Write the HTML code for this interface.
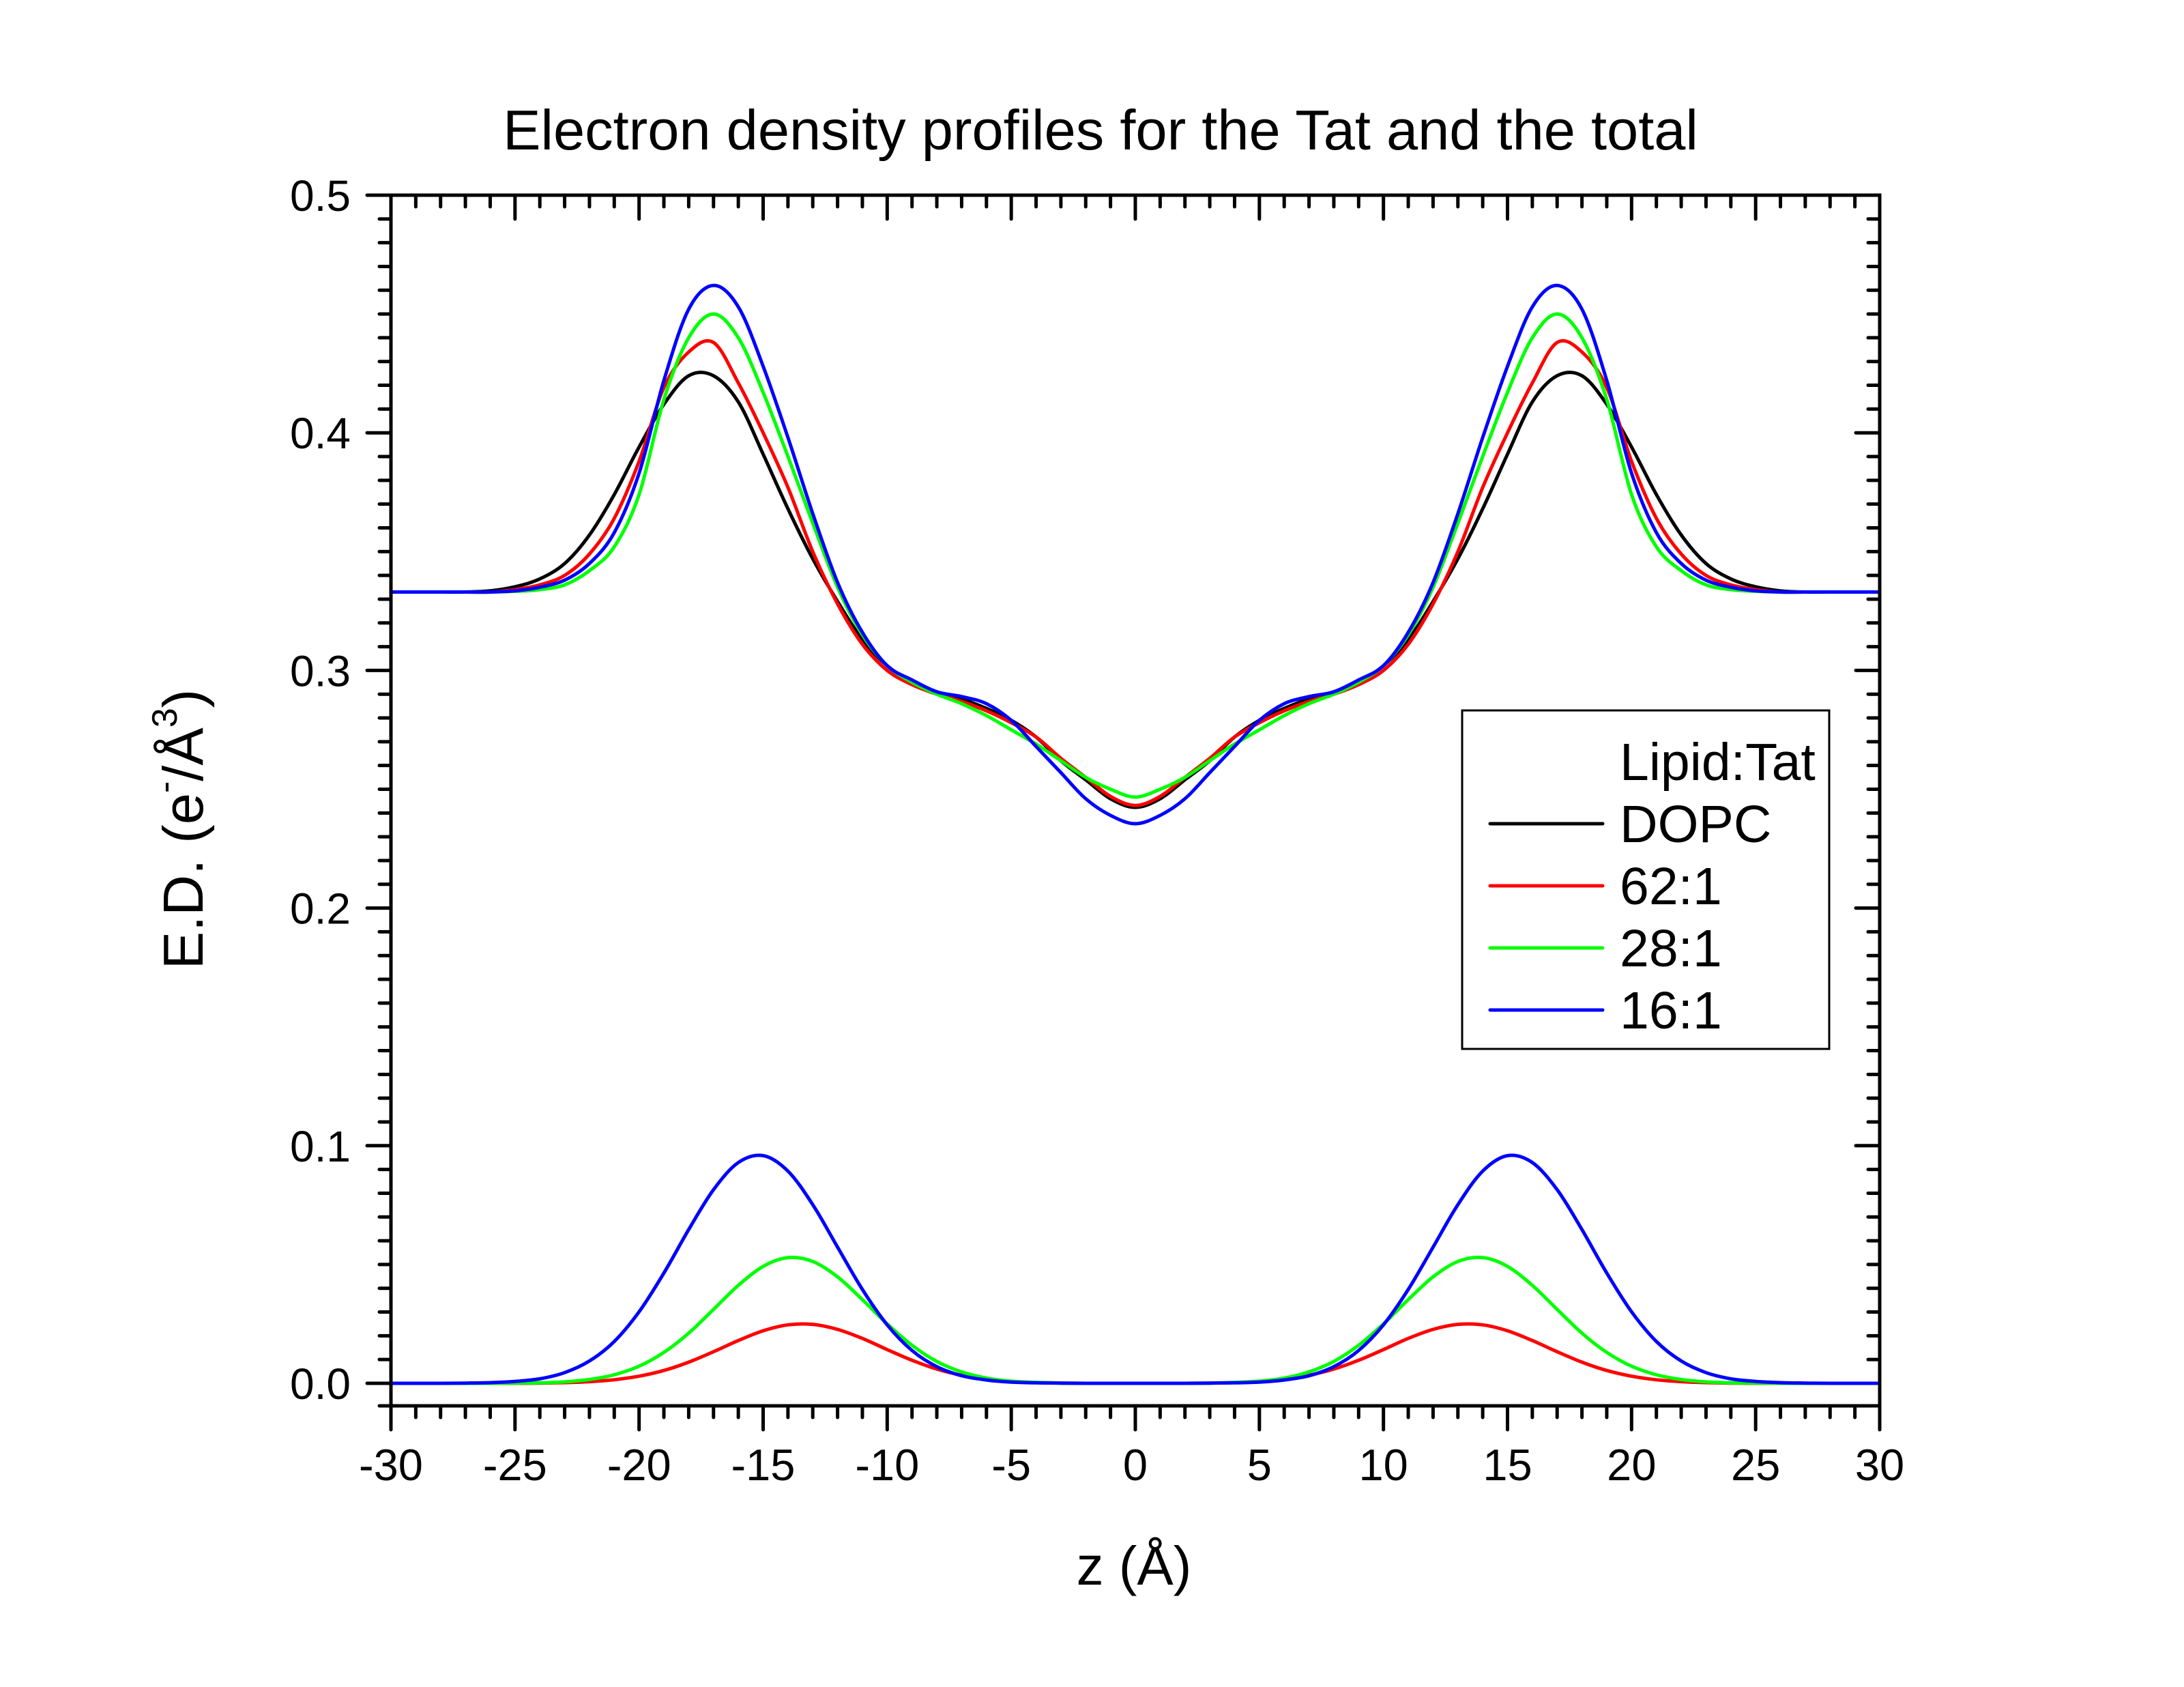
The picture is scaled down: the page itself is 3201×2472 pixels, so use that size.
<!DOCTYPE html>
<html>
<head>
<meta charset="utf-8">
<style>
html,body{margin:0;padding:0;background:#fff;}
svg{display:block;}
text{font-family:"Liberation Sans",Arial,sans-serif;fill:#000;}
</style>
</head>
<body>
<svg id="chart" width="3201" height="2472" viewBox="0 0 3201 2472" xmlns="http://www.w3.org/2000/svg">
  <rect x="0" y="0" width="3201" height="2472" fill="#fff"/>
  <text x="1613" y="219" font-size="83" text-anchor="middle">Electron density profiles for the Tat and the total</text>
  <g id="ticks"></g>
  <g id="series"></g>
  <rect x="573" y="286" width="2182" height="1774" fill="none" stroke="#000" stroke-width="5"/>
  <g id="ticklabels"></g>
  <text x="1662" y="2322" font-size="80" text-anchor="middle">z (Å)</text>
  <text transform="translate(297,1215) rotate(-90)" font-size="83" text-anchor="middle">E.D. (e<tspan font-size="52" dy="-38">-</tspan><tspan dy="38">/Å</tspan><tspan font-size="52" dy="-38">3</tspan><tspan dy="38">)</tspan></text>
  <g transform="translate(-23,0)">
    <rect x="2166" y="1041" width="538" height="496" fill="#fff" stroke="#000" stroke-width="3"/>
    <text x="2397" y="1143" font-size="77">Lipid:Tat</text>
    <line x1="2207" y1="1207" x2="2372" y2="1207" stroke="#000" stroke-width="5" stroke-linecap="round"/>
    <text x="2397" y="1234" font-size="77">DOPC</text>
    <line x1="2207" y1="1298" x2="2372" y2="1298" stroke="#ff0000" stroke-width="5" stroke-linecap="round"/>
    <text x="2397" y="1325" font-size="77">62:1</text>
    <line x1="2207" y1="1389" x2="2372" y2="1389" stroke="#00ff00" stroke-width="5" stroke-linecap="round"/>
    <text x="2397" y="1416" font-size="77">28:1</text>
    <line x1="2207" y1="1480" x2="2372" y2="1480" stroke="#0000ff" stroke-width="5" stroke-linecap="round"/>
    <text x="2397" y="1507" font-size="77">16:1</text>
  </g>
</svg>
<script>
// z positions (Å), -30..30 step 1
const zValues = [-30,-29,-28,-27,-26,-25,-24,-23,-22,-21,-20,-19,-18,-17,-16,-15,-14,-13,-12,-11,-10,-9,-8,-7,-6,-5,-4,-3,-2,-1,0,1,2,3,4,5,6,7,8,9,10,11,12,13,14,15,16,17,18,19,20,21,22,23,24,25,26,27,28,29,30];
const totalDOPC = [0.333,0.333,0.333,0.333,0.3335,0.3352,0.3385,0.345,0.357,0.374,0.394,0.412,0.424,0.424,0.413,0.391,0.368,0.347,0.329,0.313,0.302,0.295,0.291,0.288,0.284,0.279,0.272,0.262,0.254,0.246,0.2424,0.246,0.254,0.262,0.272,0.279,0.284,0.288,0.291,0.295,0.302,0.313,0.329,0.347,0.368,0.391,0.413,0.424,0.424,0.412,0.394,0.374,0.357,0.345,0.3385,0.3352,0.3335,0.333,0.333,0.333,0.333];
const total62 = [0.333,0.333,0.333,0.333,0.333,0.334,0.336,0.340,0.349,0.364,0.388,0.419,0.434,0.438,0.421,0.400,0.377,0.350,0.328,0.311,0.300,0.294,0.290,0.287,0.283,0.278,0.272,0.263,0.255,0.247,0.2432,0.247,0.255,0.263,0.272,0.278,0.283,0.287,0.290,0.294,0.300,0.311,0.328,0.350,0.377,0.400,0.421,0.438,0.434,0.419,0.388,0.364,0.349,0.340,0.336,0.334,0.333,0.333,0.333,0.333,0.333];
const total28 = [0.333,0.333,0.333,0.333,0.333,0.3333,0.334,0.336,0.342,0.352,0.374,0.414,0.440,0.450,0.440,0.417,0.390,0.362,0.335,0.315,0.302,0.295,0.290,0.286,0.281,0.275,0.269,0.262,0.255,0.250,0.2467,0.250,0.255,0.262,0.269,0.275,0.281,0.286,0.290,0.295,0.302,0.315,0.335,0.362,0.390,0.417,0.440,0.450,0.440,0.414,0.374,0.352,0.342,0.336,0.334,0.3333,0.333,0.333,0.333,0.333,0.333];
const total16 = [0.333,0.333,0.333,0.333,0.333,0.3335,0.335,0.338,0.345,0.358,0.383,0.422,0.452,0.462,0.453,0.428,0.398,0.366,0.337,0.316,0.302,0.296,0.291,0.289,0.286,0.279,0.268,0.257,0.246,0.239,0.2355,0.239,0.246,0.257,0.268,0.279,0.286,0.289,0.291,0.296,0.302,0.316,0.337,0.366,0.398,0.428,0.453,0.462,0.452,0.422,0.383,0.358,0.345,0.338,0.335,0.3335,0.333,0.333,0.333,0.333,0.333];
const tat62 = [0,0,0,0,0,0,0.0001,0.0003,0.0007,0.0015,0.0030,0.0054,0.0089,0.0133,0.0180,0.0221,0.0246,0.0248,0.0227,0.0189,0.0142,0.0097,0.0060,0.0034,0.0017,0.0008,0.0003,0.0001,0,0,0,0,0,0.0001,0.0003,0.0008,0.0017,0.0034,0.0060,0.0097,0.0142,0.0189,0.0227,0.0248,0.0246,0.0221,0.0180,0.0133,0.0089,0.0054,0.0030,0.0015,0.0007,0.0003,0.0001,0,0,0,0,0,0];
const tat28 = [0,0,0,0,0,0.0001,0.0002,0.0006,0.0016,0.0036,0.0072,0.0130,0.0211,0.0311,0.0412,0.0492,0.0529,0.0513,0.0448,0.0352,0.0250,0.0160,0.0092,0.0048,0.0022,0.0009,0.0004,0.0001,0,0,0,0,0,0.0001,0.0004,0.0009,0.0022,0.0048,0.0092,0.0160,0.0250,0.0352,0.0448,0.0513,0.0529,0.0492,0.0412,0.0311,0.0211,0.0130,0.0072,0.0036,0.0016,0.0006,0.0002,0.0001,0,0,0,0,0];
const tat16 = [0,0,0,0.0001,0.0003,0.0008,0.0019,0.0045,0.0094,0.0176,0.0301,0.0464,0.0647,0.0815,0.0929,0.0958,0.0893,0.0752,0.0573,0.0395,0.0246,0.0138,0.0070,0.0032,0.0014,0.0005,0.0002,0.0001,0,0,0,0,0,0.0001,0.0002,0.0005,0.0014,0.0032,0.0070,0.0138,0.0246,0.0395,0.0573,0.0752,0.0893,0.0958,0.0929,0.0815,0.0647,0.0464,0.0301,0.0176,0.0094,0.0045,0.0019,0.0008,0.0003,0.0001,0,0,0];
const xTickLabels = ["-30","-25","-20","-15","-10","-5","0","5","10","15","20","25","30"];
const yTickLabels = ["0.0","0.1","0.2","0.3","0.4","0.5"];

const NS = "http://www.w3.org/2000/svg";
const X0 = 573, X1 = 2755, YT = 286, YB = 2060, Y0PX = 2027, YPER = 3482;
function xs(z){ return X0 + (z + 30) * (X1 - X0) / 60; }
function ys(v){ return Y0PX - v * YPER; }

const ticksG = document.getElementById('ticks');
const labelsG = document.getElementById('ticklabels');
function tick(x1,y1,x2,y2,name){
  const l = document.createElementNS(NS,'line');
  l.setAttribute('x1',x1); l.setAttribute('y1',y1); l.setAttribute('x2',x2); l.setAttribute('y2',y2);
  l.setAttribute('stroke','#000'); l.setAttribute('stroke-width','5'); l.setAttribute('stroke-linecap','round');
  
  
  ticksG.appendChild(l);
}
for (let z = -30; z <= 30; z++) {
  const major = (z % 5 === 0);
  const len = major ? 35 : 17;
  const x = xs(z);
  tick(x, YB, x, YB + len, major ? 'x-major-tick' : 'x-minor-tick');
  tick(x, YT, x, YT + len, major ? 'top-major-tick' : 'top-minor-tick');
}
for (let i = -1; i <= 50; i++) {
  const v = i / 100;
  const major = (i % 10 === 0);
  const len = major ? 35 : 17;
  let y = ys(v);
  if (y > YB) y = YB;
  tick(X0, y, X0 - len, y, major ? 'y-major-tick' : 'y-minor-tick');
  tick(X1, y, X1 - len, y, major ? 'right-major-tick' : 'right-minor-tick');
}
xTickLabels.forEach(function(lab){
  const t = document.createElementNS(NS,'text');
  t.setAttribute('x', xs(parseFloat(lab))); t.setAttribute('y', 2169);
  t.setAttribute('font-size','65'); t.setAttribute('text-anchor','middle');
  
  
  t.textContent = lab;
  labelsG.appendChild(t);
});
yTickLabels.forEach(function(lab){
  const t = document.createElementNS(NS,'text');
  t.setAttribute('x', 514); t.setAttribute('y', ys(parseFloat(lab)) + 23);
  t.setAttribute('font-size','64'); t.setAttribute('text-anchor','end');
  
  
  t.textContent = lab;
  labelsG.appendChild(t);
});

function splinePath(vals){
  const p = zValues.map(function(z,i){ return [xs(z), ys(vals[i])]; });
  let d = 'M' + p[0][0].toFixed(1) + ' ' + p[0][1].toFixed(1);
  for (let i = 0; i < p.length - 1; i++) {
    const a = p[Math.max(0,i-1)], b = p[i], c = p[i+1], e = p[Math.min(p.length-1,i+2)];
    const c1x = b[0] + (c[0]-a[0])/6, c1y = b[1] + (c[1]-a[1])/6;
    const c2x = c[0] - (e[0]-b[0])/6, c2y = c[1] - (e[1]-b[1])/6;
    d += ' C' + c1x.toFixed(1)+' '+c1y.toFixed(1)+' '+c2x.toFixed(1)+' '+c2y.toFixed(1)+' '+c[0].toFixed(1)+' '+c[1].toFixed(1);
  }
  return d;
}
const seriesG = document.getElementById('series');
function addSeries(vals, color, name){
  const path = document.createElementNS(NS,'path');
  path.setAttribute('d', splinePath(vals));
  path.setAttribute('fill','none'); path.setAttribute('stroke', color);
  path.setAttribute('stroke-width','5'); path.setAttribute('stroke-linejoin','round');
  
  
  seriesG.appendChild(path);
}
addSeries(tat62, '#ff0000', 'tat-62-1-line');
addSeries(tat28, '#00ff00', 'tat-28-1-line');
addSeries(tat16, '#0000ff', 'tat-16-1-line');
addSeries(totalDOPC, '#000000', 'total-dopc-line');
addSeries(total62, '#ff0000', 'total-62-1-line');
addSeries(total28, '#00ff00', 'total-28-1-line');
addSeries(total16, '#0000ff', 'total-16-1-line');
</script>
</body>
</html>
